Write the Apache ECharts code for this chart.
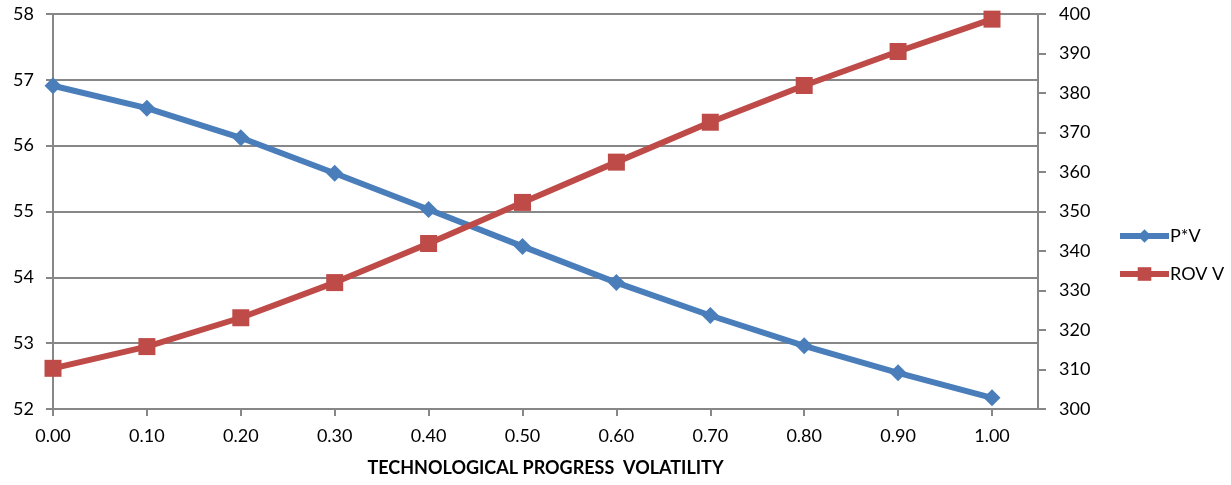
<!DOCTYPE html>
<html><head><meta charset="utf-8">
<script src="https://cdn.jsdelivr.net/npm/echarts@6/dist/echarts.min.js"></script>
<style>html,body{margin:0;padding:0;background:#fff}#c{width:1231px;height:485px}</style>
</head><body><div id="c"></div>
<script>
const volatility = [0.00, 0.10, 0.20, 0.30, 0.40, 0.50, 0.60, 0.70, 0.80, 0.90, 1.00];
const pv = [56.91, 56.57, 56.12, 55.58, 55.03, 54.47, 53.92, 53.42, 52.96, 52.55, 52.17];
const rovV = [310.3, 315.8, 323.1, 332.0, 341.9, 352.3, 362.5, 372.6, 381.9, 390.5, 398.7];
const seriesNames = ['P*V', 'ROV V'];
const xTitle = 'TECHNOLOGICAL PROGRESS  VOLATILITY';

const font = 'Lato, "Open Sans", sans-serif';
const gray = '#878787';
const chart = echarts.init(document.getElementById('c'));
chart.setOption({
  animation: false,
  grid: { left: 53, right: 193, top: 14, bottom: 76, containLabel: false },
  legend: {
    orient: 'vertical', left: 1112, top: 222, itemGap: 20,
    itemWidth: 49, itemHeight: 17,
    lineStyle: { width: 6 },
    textStyle: { fontFamily: font, fontSize: 18, color: '#000', padding: [0,0,0,-4] },
    data: seriesNames
  },
  xAxis: {
    type: 'value', min: 0, max: 1.049,
    name: xTitle, nameLocation: 'middle', nameGap: 50,
    nameTextStyle: { fontFamily: font, fontSize: 18, fontWeight: 'bold', color: '#000' },
    axisLine: { show: true, lineStyle: { color: gray, width: 2 } },
    axisTick: { show: true, length: 7, lineStyle: { color: gray, width: 2 }, customValues: volatility },
    axisLabel: { fontFamily: font, fontSize: 18, color: '#000', margin: 18, customValues: volatility,
      formatter: v => v.toFixed(2) },
    splitLine: { show: false }
  },
  yAxis: [
    { type: 'value', min: 52, max: 58, interval: 1, position: 'left',
      axisLine: { show: true, lineStyle: { color: gray, width: 2 } },
      axisTick: { show: true, length: 7, lineStyle: { color: gray, width: 2 } },
      axisLabel: { fontFamily: font, fontSize: 18, color: '#000', margin: 19 },
      splitLine: { show: true, lineStyle: { color: gray, width: 2 } } },
    { type: 'value', min: 300, max: 400, interval: 10, position: 'right',
      axisLine: { show: true, lineStyle: { color: gray, width: 2 } },
      axisTick: { show: true, length: 8, lineStyle: { color: gray, width: 2 } },
      axisLabel: { fontFamily: font, fontSize: 18, color: '#000', margin: 21 },
      splitLine: { show: false } }
  ],
  series: [
    { name: seriesNames[0], type: 'line', yAxisIndex: 0,
      data: volatility.map((x, i) => [x, pv[i]]),
      symbol: 'diamond', symbolSize: 17,
      lineStyle: { color: '#4A7EBB', width: 6 },
      itemStyle: { color: '#4A7EBB' } },
    { name: seriesNames[1], type: 'line', yAxisIndex: 1,
      data: volatility.map((x, i) => [x, rovV[i]]),
      symbol: 'rect', symbolSize: 17,
      lineStyle: { color: '#BE4B48', width: 6 },
      itemStyle: { color: '#BE4B48' } }
  ]
});
</script></body></html>
